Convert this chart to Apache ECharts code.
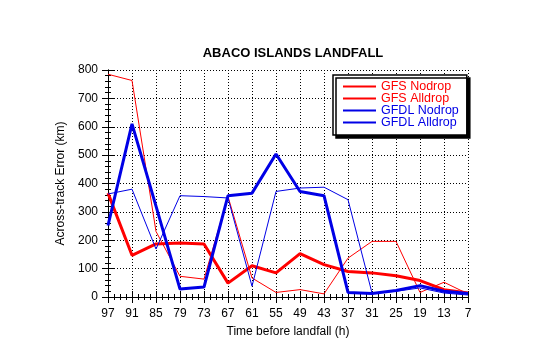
<!DOCTYPE html>
<html>
<head>
<meta charset="utf-8">
<script src="https://cdn.jsdelivr.net/npm/echarts@6/dist/echarts.min.js"></script>
<style>html,body{margin:0;padding:0;background:#fff}#c{width:540px;height:344px}</style>
</head>
<body>
<div id="c"></div>
<script>
const categories = ['97','91','85','79','73','67','61','55','49','43','37','31','25','19','13','7'];
const gfsNodrop   = [785, 763, 231, 73, 63, 354, 67, 16, 26, 11, 137, 196, 196, 16, 52, 11];
const gfsAlldrop  = [366, 147, 187, 190, 187, 49, 110, 85, 153, 114, 90, 85, 75, 58, 26, 14];
const gfdlNodrop  = [363, 380, 169, 357, 354, 349, 38, 372, 384, 387, 343, 14, 20, 32, 14, 7];
const gfdlAlldrop = [252, 610, 320, 28, 35, 357, 366, 504, 372, 357, 16, 12, 23, 40, 20, 12];
const yTicks = [0, 100, 200, 300, 400, 500, 600, 700, 800];

const RED = '#ff0000', BLUE = '#0000e6';
const FONT = 'Liberation Sans, Arial, Helvetica, sans-serif';
const toPairs = arr => arr.map((v, i) => [i, v]);

const chart = echarts.init(document.getElementById('c'), null, {renderer: 'canvas'});

const baseTick = {show: true, inside: true, length: 6, lineStyle: {color: '#000', width: 1}};
const baseMinor = {show: true, splitNumber: 4, length: 3, lineStyle: {color: '#000', width: 1}};
const axisLine = {show: true, lineStyle: {color: '#000', width: 1}};

function mkSeries(name, data, color, width) {
  return {
    name, type: 'line', data: toPairs(data), symbol: 'none', showSymbol: false,
    lineStyle: {color, width}, itemStyle: {color}, animation: false, z: 3
  };
}

chart.setOption({
  animation: false,
  backgroundColor: '#fff',
  title: {
    text: 'ABACO ISLANDS LANDFALL', left: 288, textAlign: 'center', top: 42,
    textStyle: {fontFamily: FONT, fontSize: 13, fontWeight: 'bold', color: '#000'}
  },
  grid: {left: 108, right: 72, top: 70, bottom: 47},
  legend: {
    orient: 'vertical', left: 333, top: 75,
    padding: [5, 8, 6, 9], itemGap: -1, itemWidth: 33, itemHeight: 10,
    backgroundColor: '#fff', borderColor: '#000', borderWidth: 1.5,
    shadowColor: '#000', shadowOffsetX: 3, shadowOffsetY: 3, shadowBlur: 0,
    itemStyle: {color: 'rgba(0,0,0,0)', borderColor: 'rgba(0,0,0,0)', borderWidth: 0, opacity: 0},
    textStyle: {fontFamily: FONT, fontSize: 12.5, lineHeight: 11, padding: 0},
    data: [
      {name: 'GFS Nodrop', textStyle: {color: RED}},
      {name: 'GFS Alldrop', textStyle: {color: RED}},
      {name: 'GFDL Nodrop', textStyle: {color: BLUE}},
      {name: 'GFDL Alldrop', textStyle: {color: BLUE}}
    ]
  },
  xAxis: [{
    type: 'value', min: 0, max: categories.length - 1, interval: 1,
    name: 'Time before landfall (h)', nameLocation: 'middle', nameGap: 29,
    nameTextStyle: {fontFamily: FONT, fontSize: 12, color: '#000'},
    axisLine, axisTick: baseTick, minorTick: baseMinor,
    axisLabel: {margin: 11, fontFamily: FONT, fontSize: 12, color: '#000',
      formatter: v => categories[v] !== undefined ? categories[v] : ''},
    splitLine: {show: true, lineStyle: {color: '#000', type: [1, 2], width: 1}}
  }, {
    type: 'value', position: 'top', min: 0, max: categories.length - 1, interval: 1,
    axisLine, axisTick: baseTick, minorTick: baseMinor,
    axisLabel: {show: false}, splitLine: {show: false}
  }],
  yAxis: [{
    type: 'value', min: yTicks[0], max: yTicks[yTicks.length - 1], interval: 100,
    name: 'Across-track Error (km)', nameLocation: 'middle', nameGap: 41,
    nameTextStyle: {fontFamily: FONT, fontSize: 12, color: '#000'},
    axisLine, axisTick: baseTick, minorTick: Object.assign({}, baseMinor, {splitNumber: 5}),
    axisLabel: {margin: 10, fontFamily: FONT, fontSize: 12, color: '#000',
      formatter: v => String(v)},
    splitLine: {show: true, lineStyle: {color: '#000', type: [1, 2], width: 1}}
  }, {
    type: 'value', position: 'right', min: yTicks[0], max: yTicks[yTicks.length - 1], interval: 100,
    axisLine, axisTick: baseTick, minorTick: Object.assign({}, baseMinor, {splitNumber: 5}),
    axisLabel: {show: false}, splitLine: {show: false}
  }],
  series: [
    mkSeries('GFS Nodrop', gfsNodrop, RED, 1),
    mkSeries('GFS Alldrop', gfsAlldrop, RED, 3),
    mkSeries('GFDL Nodrop', gfdlNodrop, BLUE, 1),
    mkSeries('GFDL Alldrop', gfdlAlldrop, BLUE, 3)
  ]
});
</script>
</body>
</html>
